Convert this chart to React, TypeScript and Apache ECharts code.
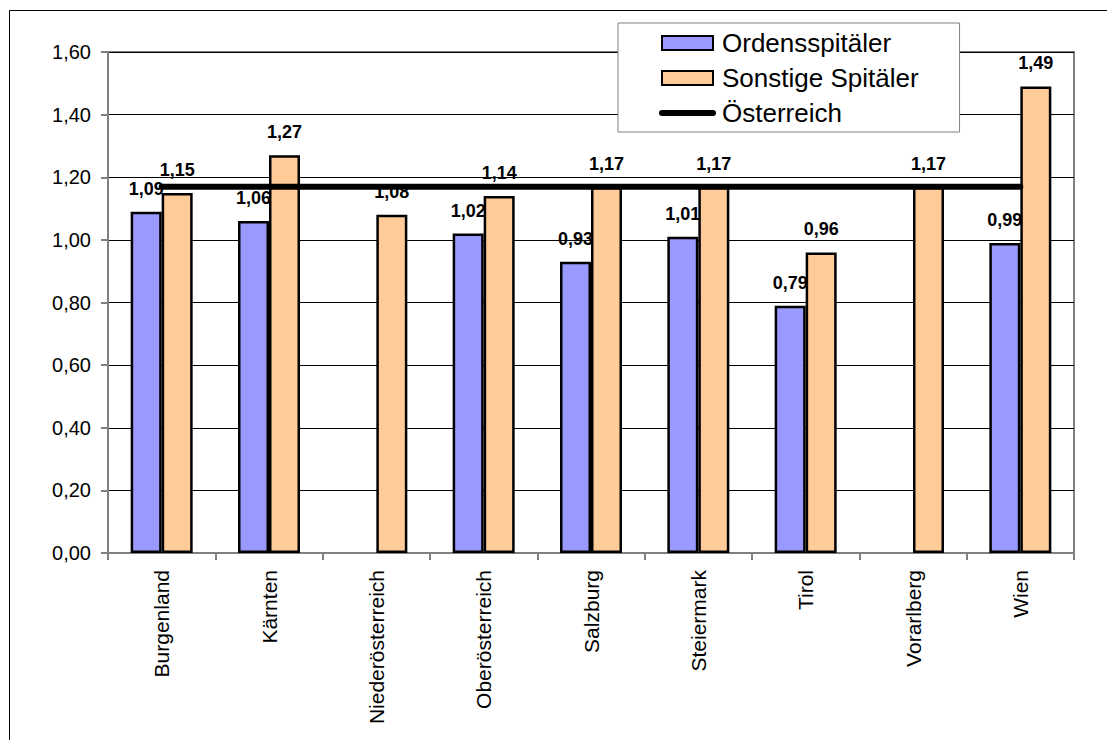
import React, { useEffect, useRef } from "react";
import * as echarts from "echarts";

const categories = [
  "Burgenland",
  "Kärnten",
  "Niederösterreich",
  "Oberösterreich",
  "Salzburg",
  "Steiermark",
  "Tirol",
  "Vorarlberg",
  "Wien",
];
const ordensValues = [1.09, 1.06, null, 1.02, 0.93, 1.01, 0.79, null, 0.99];
const sonstigeValues = [1.15, 1.27, 1.08, 1.14, 1.17, 1.17, 0.96, 1.17, 1.49];
const oesterreichValues = [1.17, 1.17, 1.17, 1.17, 1.17, 1.17, 1.17, 1.17, 1.17];
const seriesNames = ["Ordensspitäler", "Sonstige Spitäler", "Österreich"];

const FONT = "'Liberation Sans', Arial, Helvetica, sans-serif";
const fmt = (v: number) => v.toFixed(2).replace(".", ",");

export default function App() {
  const ref = useRef<HTMLDivElement>(null);
  useEffect(() => {
    if (!ref.current) return;
    const chart = echarts.init(ref.current, null, { renderer: "svg" });
    const barLabel = {
      show: true,
      position: "top",
      distance: 14,
      color: "#000",
      fontFamily: FONT,
      fontSize: 18,
      fontWeight: "bold",
      formatter: (p: any) => fmt(p.value),
    };
    chart.setOption({
      animation: false,
      backgroundColor: "#fff",
      textStyle: { fontFamily: FONT },
      graphic: [
        {
          type: "rect",
          silent: true,
          shape: { x: 9.5, y: 10.5, width: 1300, height: 900 },
          style: { fill: "none", stroke: "#000", lineWidth: 1 },
          z: 0,
        },
      ],
      grid: {
        left: 108,
        top: 52,
        right: 33,
        bottom: 187,
        show: true,
        borderColor: "#808080",
        borderWidth: 2,
        containLabel: false,
      },
      legend: {
        orient: "vertical",
        left: 618,
        top: 23,
        padding: [7, 41, 6, 41],
        itemGap: 9,
        itemWidth: 51,
        itemHeight: 14,
        borderColor: "#808080",
        borderWidth: 1,
        backgroundColor: "#fff",
        textStyle: {
          fontFamily: FONT,
          fontSize: 26,
          lineHeight: 26,
          color: "#000",
          padding: [0, 0, 0, 4],
        },
        data: [
          { name: seriesNames[0], icon: "rect" },
          { name: seriesNames[1], icon: "rect" },
          {
            name: seriesNames[2],
            lineStyle: { width: 6, color: "#000", cap: "round" },
            itemStyle: { opacity: 0 },
          },
        ],
        z: 10,
      },
      xAxis: {
        type: "category",
        data: categories,
        boundaryGap: true,
        axisLine: { show: true, lineStyle: { color: "#808080", width: 2 } },
        axisTick: {
          show: true,
          alignWithLabel: false,
          length: 7,
          lineStyle: { color: "#808080", width: 2 },
        },
        axisLabel: {
          rotate: 90,
          margin: 17,
          color: "#000",
          fontFamily: FONT,
          fontSize: 21,
          interval: 0,
        },
        splitLine: { show: false },
      },
      yAxis: {
        type: "value",
        min: 0,
        max: 1.6,
        interval: 0.2,
        axisLine: { show: true, lineStyle: { color: "#808080", width: 2 } },
        axisTick: {
          show: true,
          length: 7,
          lineStyle: { color: "#808080", width: 2 },
        },
        axisLabel: {
          margin: 17,
          color: "#000",
          fontFamily: FONT,
          fontSize: 20,
          formatter: (v: number) => fmt(v),
        },
        splitLine: { show: true, lineStyle: { color: "#000", width: 1 } },
      },
      series: [
        {
          name: seriesNames[0],
          type: "bar",
          data: ordensValues,
          barWidth: 31,
          barGap: "0%",
          itemStyle: { color: "#9999FF", borderColor: "#000", borderWidth: 2.5 },
          label: barLabel,
          z: 2,
        },
        {
          name: seriesNames[1],
          type: "bar",
          data: sonstigeValues,
          barWidth: 31,
          barGap: "0%",
          itemStyle: { color: "#FFCC99", borderColor: "#000", borderWidth: 2.5 },
          label: barLabel,
          z: 2,
        },
        {
          name: seriesNames[2],
          type: "line",
          data: oesterreichValues,
          symbol: "none",
          showSymbol: false,
          lineStyle: { color: "#000", width: 6, cap: "round" },
          itemStyle: { color: "#000" },
          z: 5,
        },
      ],
    });
    return () => chart.dispose();
  }, []);
  return (
    <div
      ref={ref}
      style={{ position: "fixed", left: 0, top: 0, width: 1107, height: 740 }}
    />
  );
}
